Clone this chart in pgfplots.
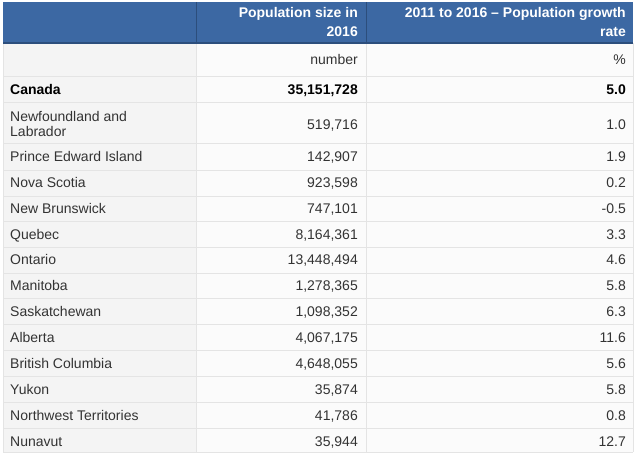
\documentclass[border=0pt]{standalone}
\usepackage{fontspec}
\setmainfont{Liberation Sans}
\usepackage{pgfplots}
\usepackage{pgfplotstable}
\pgfplotsset{compat=1.18}
\definecolor{hdrblue}{RGB}{60,104,163}
\definecolor{hdrdark}{RGB}{44,78,124}
\definecolor{colgray}{RGB}{244,244,244}
\definecolor{cellbg}{RGB}{251,251,251}
\definecolor{rowline}{RGB}{228,228,228}
\definecolor{txt}{RGB}{51,51,51}

% header text (right aligned, white bold)
\pgfplotstableread[col sep=semicolon]{
x;y;label
358;17;Population size in
358;36;2016
626;17;2011 to 2016 – Population growth
626;36;rate
}\header
% first column (left aligned)
\pgfplotstableread[col sep=semicolon]{
x;y;label
10;121;Newfoundland and
10;136;Labrador
10;161;Prince Edward Island
10;187;Nova Scotia
10;213;New Brunswick
10;239;Quebec
10;264;Ontario
10;290;Manitoba
10;316;Saskatchewan
10;342;Alberta
10;368;British Columbia
10;394;Yukon
10;420;Northwest Territories
10;446;Nunavut
}\names
% population size in 2016
\pgfplotstableread[col sep=semicolon]{
x;y;label
358;64;number
358;129;519,716
358;161;142,907
358;187;923,598
358;213;747,101
358;239;8,164,361
358;264;13,448,494
358;290;1,278,365
358;316;1,098,352
358;342;4,067,175
358;368;4,648,055
358;394;35,874
358;420;41,786
358;446;35,944
}\popsize
% 2011 to 2016 growth rate
\pgfplotstableread[col sep=semicolon]{
x;y;label
626;64;\%
626;129;1.0
626;161;1.9
626;187;0.2
626;213;-0.5
626;239;3.3
626;264;4.6
626;290;5.8
626;316;6.3
626;342;11.6
626;368;5.6
626;394;5.8
626;420;0.8
626;446;12.7
}\growth
% Canada row (bold)
\pgfplotstableread[col sep=semicolon]{
x;y;label
358;94;35,151,728
626;94;5.0
}\canada
\pgfplotstableread[col sep=semicolon]{
x;y;label
10;94;Canada
}\canadaname

\begin{document}
\begin{tikzpicture}
\begin{axis}[
  width=640pt, height=456pt, scale only axis,
  xmin=0, xmax=640, ymin=0, ymax=456,
  y dir=reverse, hide axis, clip=false,
  nodes near coords, point meta=explicit symbolic,
  every node near coord/.append style={inner sep=0pt,
    font=\fontsize{14}{16}\selectfont, text=txt},
]
% full page area
\fill[white] (axis cs:0,0) rectangle (axis cs:640,456);
% ---------- cell backgrounds ----------
\fill[cellbg] (axis cs:3,43) rectangle (axis cs:633,452);
\fill[colgray] (axis cs:3,43) rectangle (axis cs:196.5,452);
\fill[hdrblue] (axis cs:3,2) rectangle (axis cs:633,43);
% ---------- grid lines ----------
\pgfplotsinvokeforeach{76,102,143,170,196,221,247,273,298,324,350,376,402,428,452}{
  \draw[rowline, line width=0.8pt] (axis cs:3,#1) -- (axis cs:633,#1);
}
\draw[rowline, line width=0.8pt] (axis cs:196.5,43) -- (axis cs:196.5,452);
\draw[rowline, line width=0.8pt] (axis cs:366,43) -- (axis cs:366,452);
\draw[rowline, line width=0.8pt] (axis cs:633,43) -- (axis cs:633,452);
\draw[rowline, line width=0.8pt] (axis cs:3,43) -- (axis cs:3,452);
\draw[hdrdark, line width=0.8pt] (axis cs:196.5,2) -- (axis cs:196.5,43);
\draw[hdrdark, line width=0.8pt] (axis cs:366,2) -- (axis cs:366,43);
\draw[hdrdark, line width=1.2pt] (axis cs:3,43) -- (axis cs:633,43);
% ---------- texts ----------
\addplot[draw=none, mark=none,
  every node near coord/.append style={anchor=base east, text=white,
    font=\fontsize{14}{16}\selectfont\bfseries}]
  table[x=x, y=y, meta=label] {\header};
\addplot[draw=none, mark=none,
  every node near coord/.append style={anchor=base west}]
  table[x=x, y=y, meta=label] {\names};
\addplot[draw=none, mark=none,
  every node near coord/.append style={anchor=base east}]
  table[x=x, y=y, meta=label] {\popsize};
\addplot[draw=none, mark=none,
  every node near coord/.append style={anchor=base east}]
  table[x=x, y=y, meta=label] {\growth};
\addplot[draw=none, mark=none,
  every node near coord/.append style={anchor=base east, text=black,
    font=\fontsize{14}{16}\selectfont\bfseries}]
  table[x=x, y=y, meta=label] {\canada};
\addplot[draw=none, mark=none,
  every node near coord/.append style={anchor=base west, text=black,
    font=\fontsize{14}{16}\selectfont\bfseries}]
  table[x=x, y=y, meta=label] {\canadaname};
\end{axis}
\end{tikzpicture}
\end{document}
